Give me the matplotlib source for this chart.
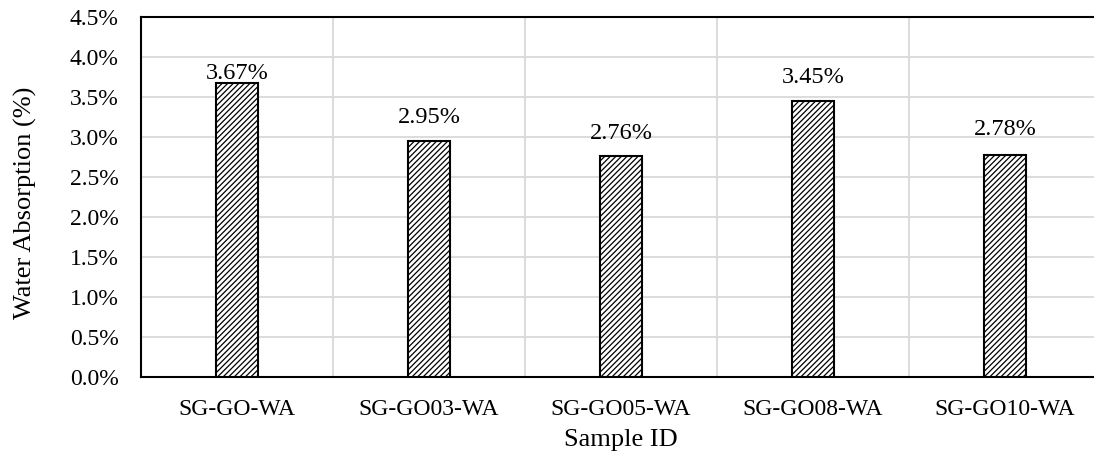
import numpy as np
import matplotlib.pyplot as plt
import matplotlib as mpl

# datos del grafico
samples = ["SG-GO-WA", "SG-GO03-WA", "SG-GO05-WA", "SG-GO08-WA", "SG-GO10-WA"]
water_abs = [3.67, 2.95, 2.76, 3.45, 2.78]
label_lift = [0.13, 0.30, 0.29, 0.30, 0.31]

plt.rcParams["font.family"] = ["Liberation Serif", "DejaVu Serif"]
plt.rcParams["hatch.linewidth"] = 0.9
plt.rcParams["hatch.color"] = "black"

fig = plt.figure(figsize=(10.94, 4.54), dpi=100)
ax = fig.add_axes([141 / 1094, 77 / 454, 960 / 1094, 360 / 454])

x = np.arange(len(samples))
ax.bar(x, water_abs, width=0.22, facecolor="white", edgecolor="black",
       linewidth=1.5, hatch="//////", zorder=3)

# etiquetas de valores
for xi, v, d in zip(x, water_abs, label_lift):
    ax.text(xi, v + d, f"{v:.2f}%", ha="center", va="center", fontsize=17.5)

ax.set_xlim(-0.5, len(samples) - 0.5)
ax.set_ylim(0, 4.5)
ax.set_yticks(np.arange(0, 4.51, 0.5))
ax.set_yticklabels([f"{t:.1f}%" for t in np.arange(0, 4.51, 0.5)])
ax.set_xticks(x)
ax.set_xticklabels(samples)
ax.set_xticks(x[:-1] + 0.5, minor=True)
ax.tick_params(axis="both", which="both", length=0, labelsize=17)
ax.tick_params(axis="x", pad=15.5)
ax.tick_params(axis="y", pad=16)

ax.grid(axis="y", color="#d9d9d9", linewidth=1.3, zorder=0)
ax.grid(axis="x", which="minor", color="#d9d9d9", linewidth=1.3, zorder=0)
ax.grid(axis="x", which="major", visible=False)

for s in ["left", "top", "bottom"]:
    ax.spines[s].set_linewidth(1.5)
    ax.spines[s].set_color("black")
ax.spines["right"].set_visible(False)

ax.set_xlabel("Sample ID", fontsize=19, labelpad=7)
ax.set_ylabel("Water Absorption (%)", fontsize=19)
ax.yaxis.set_label_coords(-0.108, 0.483)

fig.savefig("out.png", dpi=100)
